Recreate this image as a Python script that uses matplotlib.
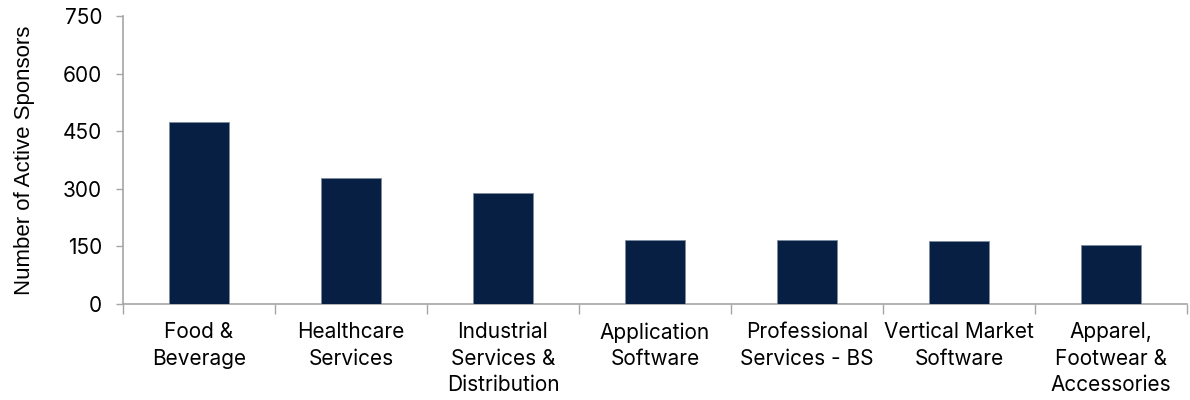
import matplotlib

matplotlib.use("Agg")
import matplotlib.pyplot as plt
import numpy as np

categories = [
    "Food &\nBeverage",
    "Healthcare\nServices",
    "Industrial\nServices &\nDistribution",
    "Application\nSoftware",
    "Professional\nServices - BS",
    "Vertical Market\nSoftware",
    "Apparel,\nFootwear &\nAccessories",
]
sponsors = [474, 327, 290, 167, 166, 165, 154]
y_ticks = [0, 150, 300, 450, 600, 750]

bar_color = "#061f42"
axis_color = "#a6a6a6"
label_font = "Inter"

fig = plt.figure(figsize=(11.9, 4.0), dpi=100)
ax = fig.add_axes([0.1034, 0.24, 0.894, 0.72])

x = np.arange(len(categories))
ax.bar(x, sponsors, width=0.4, color=bar_color, edgecolor="#7d8ba0", linewidth=0.6, zorder=3)

ax.set_xlim(-0.5, len(categories) - 0.5)
ax.set_ylim(0, 750)
ax.set_yticks(y_ticks)
ax.set_yticklabels([str(v) for v in y_ticks], fontsize=15, family=label_font)

# category labels at centers, tick marks at the boundaries
ax.set_xticks(x)
ax.set_xticklabels(categories, fontsize=15, family=label_font, linespacing=1.42)
ax.tick_params(axis="x", length=0, pad=13)
ax.set_xticks(np.arange(len(categories) + 1) - 0.5, minor=True)
ax.tick_params(axis="x", which="minor", length=7, color=axis_color, width=1)
ax.tick_params(axis="y", length=5, color=axis_color, width=1, pad=10)

for side in ("top", "right"):
    ax.spines[side].set_visible(False)
for side in ("left", "bottom"):
    ax.spines[side].set_color(axis_color)
    ax.spines[side].set_linewidth(1.2)

ax.set_ylabel("Number of Active Sponsors", fontsize=16, family="Liberation Sans")
ax.yaxis.set_label_coords(-0.083, 0.5)

fig.savefig("out.png", dpi=100)
